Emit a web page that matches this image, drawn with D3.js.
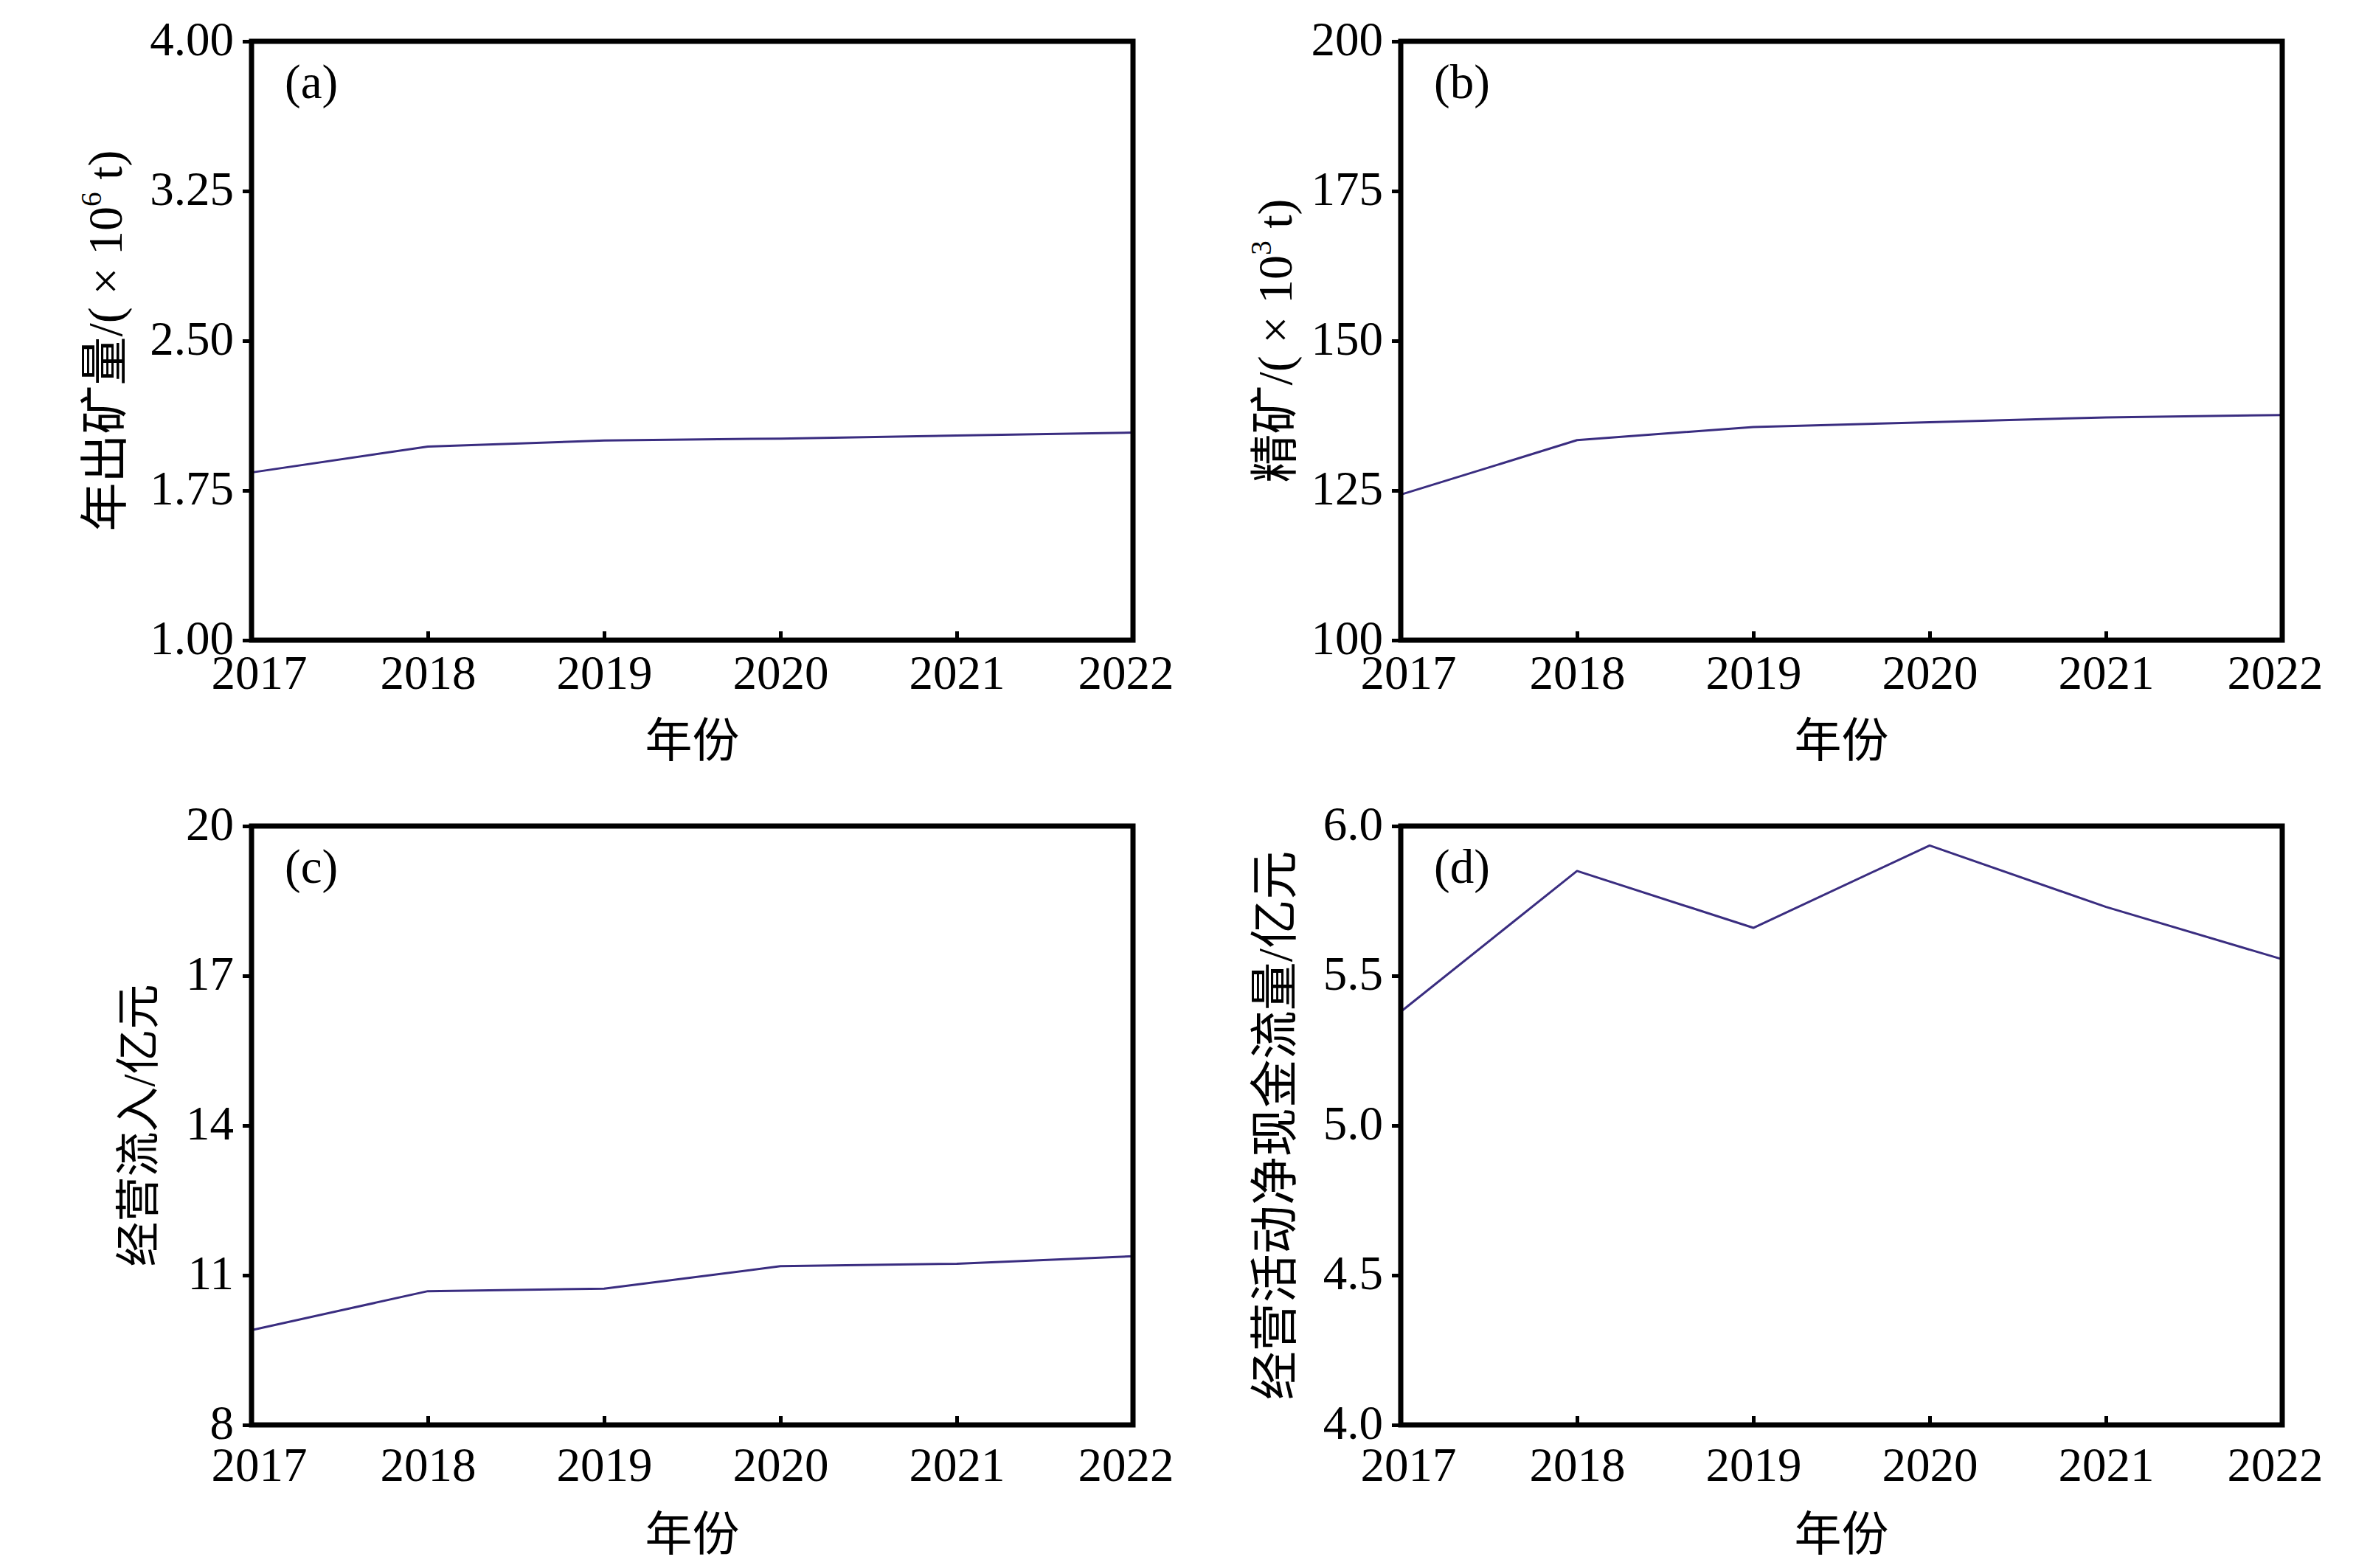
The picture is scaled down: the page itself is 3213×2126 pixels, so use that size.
<!DOCTYPE html>
<html>
<head>
<meta charset="utf-8">
<script src="https://cdn.jsdelivr.net/npm/d3@7"></script>
<style>
  html, body { margin: 0; padding: 0; background: #fff; }
  svg { display: block; }
</style>
</head>
<body>
<svg id="chart" width="3213" height="2126"></svg>
<script>
// ---------------- data ----------------
const years = [2017, 2018, 2019, 2020, 2021, 2022];
const oreOutput = [1.84, 1.97, 2.00, 2.01, 2.025, 2.04];          // 年出矿量 (×10^6 t)
const concentrate = [124.3, 133.4, 135.6, 136.4, 137.2, 137.6];    // 精矿 (×10^3 t)
const operatingInflow = [9.9, 10.68, 10.73, 11.18, 11.23, 11.38];  // 经营流入 (亿元)
const netCashFlow = [5.38, 5.85, 5.66, 5.935, 5.73, 5.555];        // 经营活动净现金流量 (亿元)

const ticksA = [1.00, 1.75, 2.50, 3.25, 4.00];
const ticksB = [100, 125, 150, 175, 200];
const ticksC = [8, 11, 14, 17, 20];
const ticksD = [4.0, 4.5, 5.0, 5.5, 6.0];

const panelLetters = ["(a)", "(b)", "(c)", "(d)"];
const xTitle = "年份";

// ---------------- layout ----------------
const LATIN = "'Liberation Serif', 'DejaVu Serif', serif";
const MIXED = "'Liberation Serif', 'Noto Sans CJK SC', serif";
const LINE_COLOR = "#3a2d80";

const panels = [
  { values: oreOutput, ticks: ticksA, fmt: d3.format(".2f"), left: 341, top: 56,
    ylab: [["年出矿量/( × 10"], ["6", true], [" t)"]], ylabX: 165, ylabSize: 66, row: 0 },
  { values: concentrate, ticks: ticksB, fmt: d3.format("d"), left: 1899, top: 56,
    ylab: [["精矿/( × 10"], ["3", true], [" t)"]], ylabX: 1751, ylabSize: 66, row: 0 },
  { values: operatingInflow, ticks: ticksC, fmt: d3.format("d"), left: 341, top: 1120,
    ylab: [["经营流入/亿元"]], ylabX: 209, ylabSize: 61, row: 1 },
  { values: netCashFlow, ticks: ticksD, fmt: d3.format(".1f"), left: 1899, top: 1120,
    ylab: [["经营活动净现金流量/亿元"]], ylabX: 1751, ylabSize: 66, row: 1 }
];
const W = 1195, H = 812;
const rowOffsets = [ { tickPad: 20, titleBase: 158 }, { tickPad: 30, titleBase: 170 } ];

const svg = d3.select("#chart");

panels.forEach((p, i) => {
  const x = d3.scaleLinear().domain([years[0], years[years.length - 1]]).range([p.left, p.left + W]);
  const y = d3.scaleLinear().domain([p.ticks[0], p.ticks[p.ticks.length - 1]]).range([p.top + H, p.top]);
  const g = svg.append("g");

  // line
  g.append("path")
    .datum(years.map((yr, k) => [yr, p.values[k]]))
    .attr("fill", "none")
    .attr("stroke", LINE_COLOR)
    .attr("stroke-width", 3)
    .attr("stroke-linejoin", "round")
    .attr("d", d3.line().x(d => x(d[0])).y(d => y(d[1])));

  // y axis (ticks outward)
  const ya = g.append("g")
    .attr("transform", `translate(${p.left},0)`)
    .call(d3.axisLeft(y).tickValues(p.ticks).tickFormat(p.fmt).tickSize(12).tickSizeOuter(0).tickPadding(12));
  ya.select(".domain").remove();
  ya.selectAll(".tick line").attr("stroke", "#000").attr("stroke-width", 5);
  ya.selectAll(".tick text").attr("font-family", LATIN).attr("font-size", 65).attr("fill", "#000").attr("dy", "0.28em");

  // x axis (ticks inward)
  const ro = rowOffsets[p.row];
  const xa = g.append("g")
    .attr("transform", `translate(0,${p.top + H})`)
    .call(d3.axisBottom(x).tickValues(years).tickFormat(d3.format("d")).tickSize(-12).tickSizeOuter(0).tickPadding(ro.tickPad));
  xa.select(".domain").remove();
  xa.selectAll(".tick line").attr("stroke", "#000").attr("stroke-width", 5);
  xa.selectAll(".tick text").attr("font-family", LATIN).attr("font-size", 65).attr("fill", "#000")
    .attr("dx", (d, k) => k === 0 ? 10 : (k === years.length - 1 ? -10 : 0));

  // frame
  g.append("rect")
    .attr("x", p.left).attr("y", p.top).attr("width", W).attr("height", H)
    .attr("fill", "none").attr("stroke", "#000").attr("stroke-width", 7);

  // panel letter
  g.append("text")
    .attr("x", p.left + 45).attr("y", p.top + 77)
    .attr("font-family", LATIN).attr("font-size", 65).attr("fill", "#000")
    .text(panelLetters[i]);

  // x title
  g.append("text")
    .attr("x", p.left + W / 2).attr("y", p.top + H + ro.titleBase)
    .attr("text-anchor", "middle")
    .attr("font-family", MIXED).attr("font-size", 64).attr("fill", "#000")
    .text(xTitle);

  // y title (rotated)
  const yt = g.append("text")
    .attr("transform", `translate(${p.ylabX},${p.top + H / 2}) rotate(-90)`)
    .attr("text-anchor", "middle")
    .attr("font-family", MIXED).attr("font-size", p.ylabSize).attr("fill", "#000");
  p.ylab.forEach((part, k) => {
    const ts = yt.append("tspan").text(part[0]);
    if (part[1]) {
      ts.attr("font-size", p.ylabSize * 0.6).attr("dy", -p.ylabSize * 0.42);
    } else if (k > 0 && p.ylab[k - 1][1]) {
      ts.attr("dy", p.ylabSize * 0.42);
    }
  });
});
</script>
</body>
</html>
